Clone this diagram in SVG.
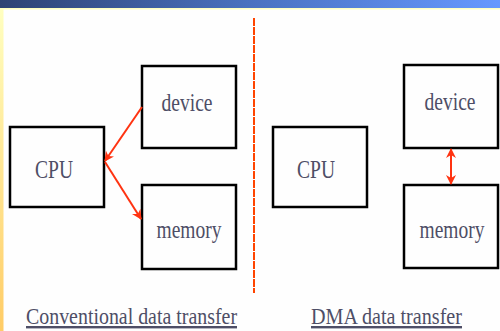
<svg xmlns="http://www.w3.org/2000/svg" width="500" height="331" viewBox="0 0 500 331">
<defs>
<linearGradient id="bar" x1="0" y1="0" x2="1" y2="0">
<stop offset="0" stop-color="#2E4373"/>
<stop offset="0.5" stop-color="#4A72C0"/>
<stop offset="1" stop-color="#6699FF"/>
</linearGradient>
<linearGradient id="side" x1="0" y1="0" x2="0" y2="1">
<stop offset="0" stop-color="#FFFFC0"/>
<stop offset="1" stop-color="#FFCC66"/>
</linearGradient>
<marker id="ah" viewBox="0 0 10 10" refX="9" refY="5" markerWidth="5" markerHeight="5" orient="auto-start-reverse" markerUnits="strokeWidth">
<path d="M0,0 L10,5 L0,10 L3,5 Z" fill="#FF3311"/>
</marker>
<style>
.box{fill:none;stroke:#000;stroke-width:2.5}
.lbl{font-family:"Liberation Serif","Times New Roman",serif;font-size:26px;fill:#4E4E66;text-anchor:middle}
.cap{font-family:"Liberation Serif","Times New Roman",serif;font-size:24px;fill:#4E4E66;text-decoration:underline}
.arr{stroke:#FF3311;stroke-width:2;fill:none}
</style>
</defs>
<rect x="0" y="0" width="500" height="331" fill="#FEFEFE"/>
<rect x="0" y="0" width="500" height="8" fill="url(#bar)"/>
<rect x="0" y="8" width="500" height="1.5" fill="#FFFFC0"/>
<rect x="0" y="8" width="3.5" height="323" fill="url(#side)"/>
<line x1="254" y1="18" x2="254" y2="293" stroke="#FF4400" stroke-width="2" stroke-dasharray="8 1"/>
<g id="cpu1"><rect class="box" x="10" y="127" width="94" height="80"/><text class="lbl" x="54" y="178" textLength="38" lengthAdjust="spacingAndGlyphs">CPU</text></g>
<g id="device1"><rect class="box" x="142" y="66" width="94" height="82"/><text class="lbl" x="187" y="111" textLength="51" lengthAdjust="spacingAndGlyphs">device</text></g>
<g id="memory1"><rect class="box" x="142" y="185" width="94" height="84"/><text class="lbl" x="189" y="238" textLength="65" lengthAdjust="spacingAndGlyphs">memory</text></g>
<g id="cpu2"><rect class="box" x="273" y="127" width="94" height="80"/><text class="lbl" x="316" y="178" textLength="38" lengthAdjust="spacingAndGlyphs">CPU</text></g>
<g id="device2"><rect class="box" x="404" y="65" width="94" height="83"/><text class="lbl" x="450" y="110" textLength="51" lengthAdjust="spacingAndGlyphs">device</text></g>
<g id="memory2"><rect class="box" x="404" y="185" width="94" height="83"/><text class="lbl" x="452" y="238" textLength="65" lengthAdjust="spacingAndGlyphs">memory</text></g>
<g id="connectors">
<line class="arr" x1="142" y1="107" x2="105" y2="161" marker-end="url(#ah)"/>
<line class="arr" x1="105" y1="162" x2="141" y2="219" marker-end="url(#ah)"/>
<line class="arr" x1="451" y1="149" x2="451" y2="184" marker-start="url(#ah)" marker-end="url(#ah)"/>
</g>
<text class="cap" x="26" y="324" textLength="211" lengthAdjust="spacingAndGlyphs">Conventional data transfer</text>
<text class="cap" x="311" y="324" textLength="151" lengthAdjust="spacingAndGlyphs">DMA data transfer</text>
</svg>
